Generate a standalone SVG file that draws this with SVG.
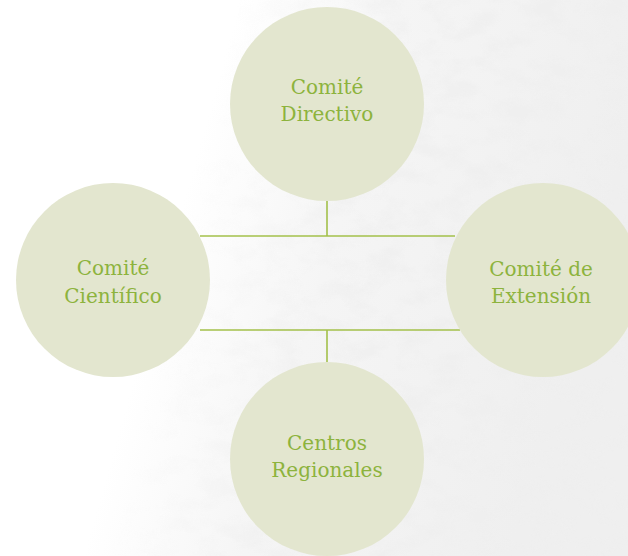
<svg xmlns="http://www.w3.org/2000/svg" width="628" height="556" viewBox="0 0 628 556">
  <defs>
    <linearGradient id="bg" x1="0" y1="0" x2="1" y2="0.25">
      <stop offset="0" stop-color="#ffffff"/>
      <stop offset="0.36" stop-color="#ffffff"/>
      <stop offset="0.6" stop-color="#f5f5f5"/>
      <stop offset="1" stop-color="#efefef"/>
    </linearGradient>
    <linearGradient id="fade" x1="0" y1="0" x2="1" y2="0.2">
      <stop offset="0" stop-color="#000"/>
      <stop offset="0.36" stop-color="#000"/>
      <stop offset="0.68" stop-color="#fff"/>
      <stop offset="1" stop-color="#fff"/>
    </linearGradient>
    <mask id="texMask">
      <rect width="628" height="556" fill="url(#fade)"/>
    </mask>
    <filter id="noise" x="0" y="0" width="100%" height="100%">
      <feTurbulence type="fractalNoise" baseFrequency="0.03 0.05" numOctaves="5" seed="7"/>
      <feColorMatrix type="matrix" values="0 0 0 0 0.86  0 0 0 0 0.86  0 0 0 0 0.86  3.2 0 0 0 -1.35"/>
    </filter>
    <style>
      .node { fill: #e3e6cf; }
      .lbl { font-family: "DejaVu Serif", "Liberation Serif", serif; font-size: 20px; fill: #8db33d; text-anchor: middle; }
      .conn { stroke: #a3c04a; stroke-width: 1.6; fill: none; }
    </style>
  </defs>
  <rect width="628" height="556" fill="url(#bg)"/>
  <rect width="628" height="556" filter="url(#noise)" mask="url(#texMask)" opacity="0.7"/>

  <g id="connectors">
    <line class="conn" x1="200" y1="236" x2="455" y2="236"/>
    <line class="conn" x1="200" y1="330" x2="460" y2="330"/>
    <line class="conn" x1="327" y1="195" x2="327" y2="236"/>
    <line class="conn" x1="327" y1="330" x2="327" y2="368"/>
  </g>

  <g id="node-directivo">
    <circle class="node" cx="327" cy="104" r="97"/>
    <text class="lbl" x="327" y="94">Comité</text>
    <text class="lbl" x="327" y="121">Directivo</text>
  </g>
  <g id="node-cientifico">
    <circle class="node" cx="113" cy="280" r="97"/>
    <text class="lbl" x="113" y="275">Comité</text>
    <text class="lbl" x="113" y="303">Científico</text>
  </g>
  <g id="node-extension">
    <circle class="node" cx="543" cy="280" r="97"/>
    <text class="lbl" x="541" y="276">Comité de</text>
    <text class="lbl" x="541" y="303">Extensión</text>
  </g>
  <g id="node-regionales">
    <circle class="node" cx="327" cy="459" r="97"/>
    <text class="lbl" x="327" y="450">Centros</text>
    <text class="lbl" x="327" y="477">Regionales</text>
  </g>
</svg>
